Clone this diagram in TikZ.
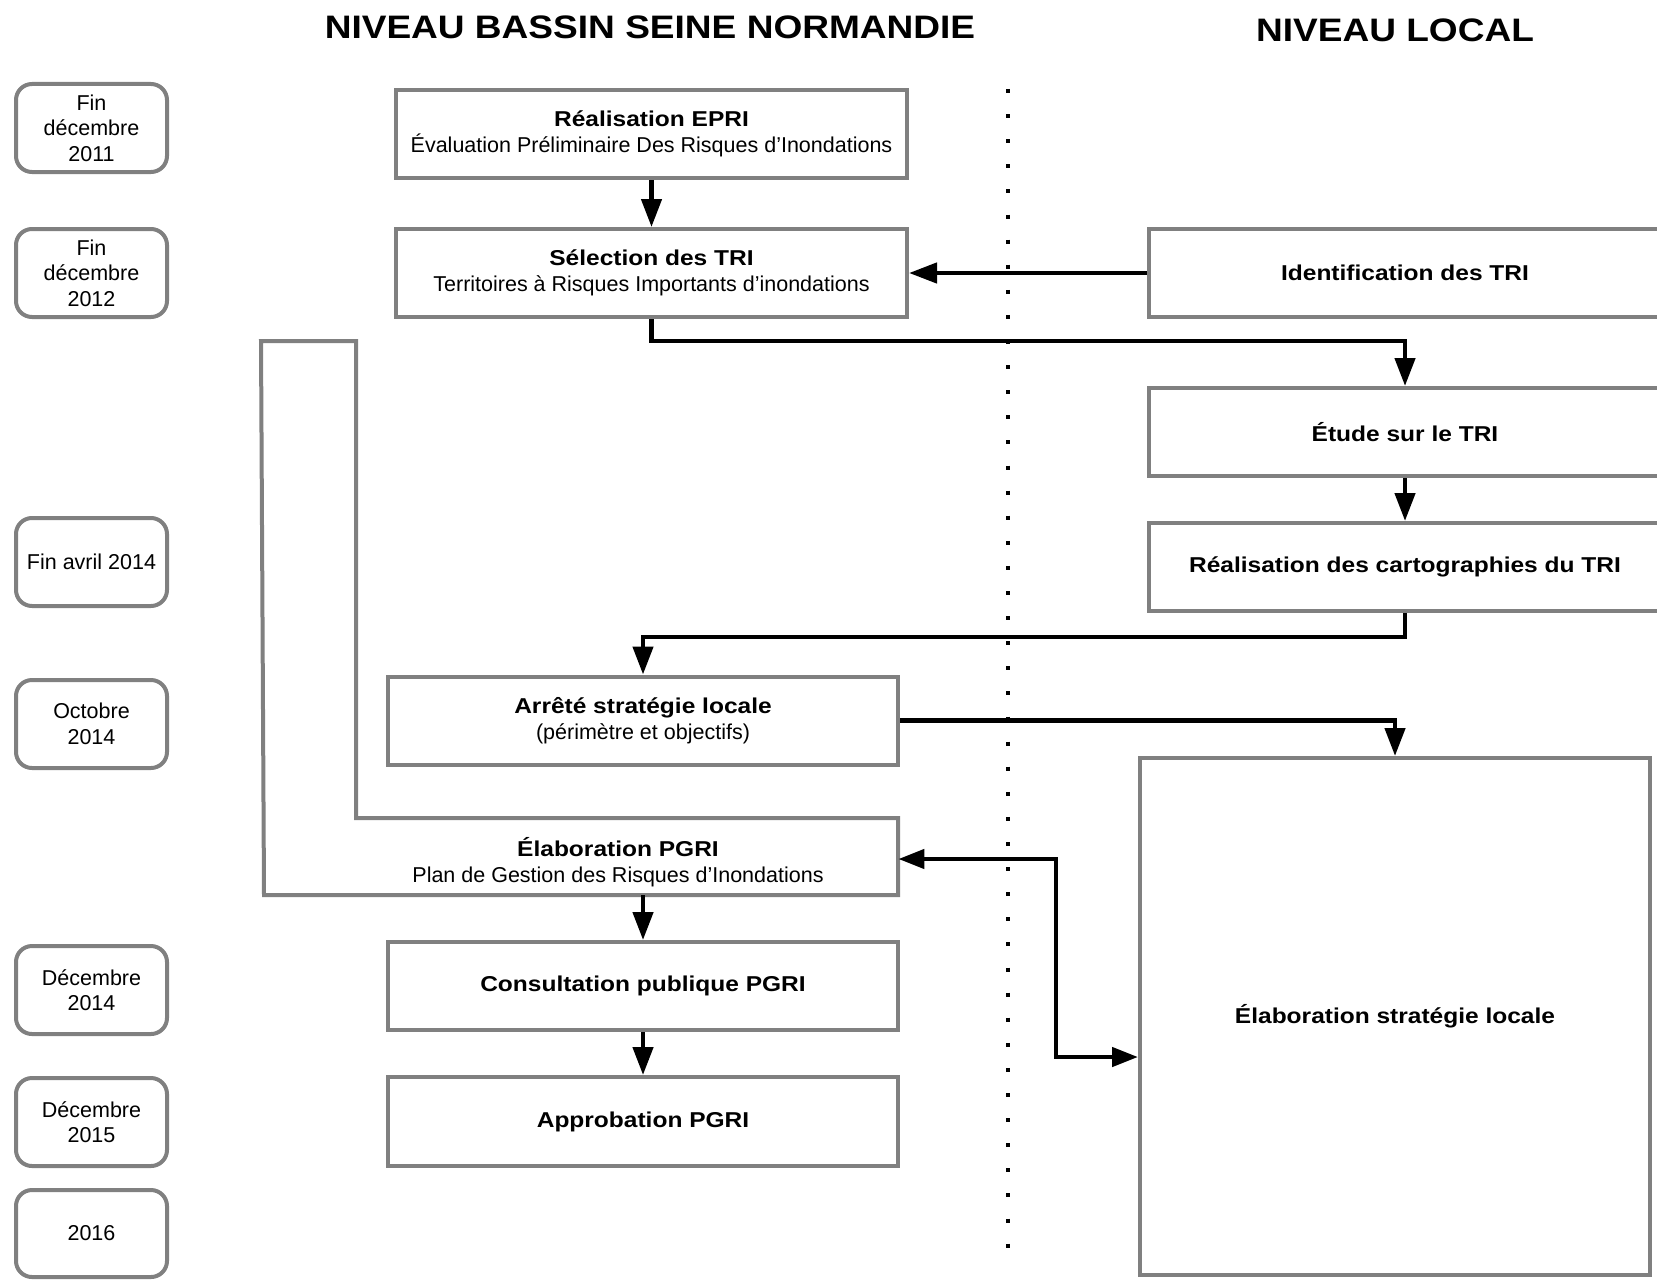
\documentclass[tikz,border=0pt]{standalone}
\usepackage{fontspec}
\setmainfont{Liberation Sans}
\newfontfamily\stretchbold{Liberation Sans}[FakeStretch=1.14]
\usetikzlibrary{arrows.meta,fit}
\definecolor{boxgrey}{RGB}{128,128,128}
\newcommand\bftxt[1]{{\stretchbold\bfseries #1}}
\begin{document}
\begin{tikzpicture}[x=0.5pt,y=-0.5pt,
  datebox/.style={draw=boxgrey, line width=2pt, rounded corners=8pt, minimum width=75.5pt, minimum height=44pt, inner sep=0pt, align=center, font=\fontsize{10.75pt}{12.7pt}\selectfont},
  mainbox/.style={draw=boxgrey, line width=2pt, fill=white, minimum width=255.5pt, minimum height=44pt, inner sep=0pt, align=center, font=\fontsize{10.75pt}{13.2pt}\selectfont},
  titlefont/.style={font=\stretchbold\bfseries\fontsize{16.25pt}{18pt}\selectfont},
  arr/.style={line width=2.25pt, -{Triangle[length=14pt,width=10pt]}},
  dbl/.style={line width=2.25pt, {Triangle[length=13pt,width=9.5pt]}-{Triangle[length=13pt,width=9.5pt]}}
]
\useasboundingbox (0,0) rectangle (1657,1279);

% titles
\node[titlefont] (t1) at (650,27) {NIVEAU BASSIN SEINE NORMANDIE};
\node[titlefont] (t2) at (1395,30) {NIVEAU LOCAL};

% dotted separator
\draw[line width=2pt, dash pattern=on 2pt off 10.55pt] (1008,89) -- (1008,1252);

% date boxes
\node[datebox] (d1) at (91.5,128) {Fin\\décembre\\2011};
\node[datebox] (d2) at (91.5,273) {Fin\\décembre\\2012};
\node[datebox] (d3) at (91.5,562) {Fin avril 2014};
\node[datebox] (d4) at (91.5,724) {Octobre\\2014};
\node[datebox] (d5) at (91.5,990) {Décembre\\2014};
\node[datebox] (d6) at (91.5,1122) {Décembre\\2015};
\node[datebox, minimum height=43.5pt] (d7) at (91.5,1233.5) {2016};

% basin column
\node[mainbox] (epri) at (651.5,134) {\bftxt{Réalisation EPRI}\\Évaluation Préliminaire Des Risques d’Inondations};
\node[mainbox] (sel) at (651.5,273) {\bftxt{Sélection des TRI}\\Territoires à Risques Importants d’inondations};
\node[mainbox, minimum width=255pt] (arrete) at (643,720.5) {\bftxt{Arrêté stratégie locale}\\(périmètre et objectifs)};

\draw[draw=boxgrey, line width=2pt, fill=white] (261,341) -- (356,341) -- (356,818) -- (898,818) -- (898,895) -- (264,895) -- cycle;
\node[fit={(262,818) (898,895)}, inner sep=0pt] (pgri) {};
\node[align=center, inner sep=0pt, font=\fontsize{10.75pt}{13.2pt}\selectfont] (pgrit) at (618,862) {\bftxt{Élaboration PGRI}\\Plan de Gestion des Risques d’Inondations};

\node[mainbox, minimum width=255pt] (cons) at (643,986) {\bftxt{Consultation publique PGRI}};
\node[mainbox, minimum width=255pt, minimum height=44.5pt] (appr) at (643,1121.5) {\bftxt{Approbation PGRI}};

% local column
\node[mainbox, minimum width=256pt] (ident) at (1405,273) {\bftxt{Identification des TRI}};
\node[mainbox, minimum width=256pt] (etude) at (1405,432) {\bftxt{Étude sur le TRI}};
\node[mainbox, minimum width=256pt] (carto) at (1405,567) {\bftxt{Réalisation des cartographies du TRI}};
\node[mainbox, minimum width=255pt, minimum height=258.5pt] (strat) at (1395,1016.5) {\bftxt{Élaboration stratégie locale}};

% connectors
\coordinate (y1) at (0,341);
\coordinate (y2) at (0,637);
\coordinate (k1) at (1056,859);
\coordinate (k2) at (1056,1057);
\draw[arr] (epri.south) -- (sel.north);
\draw[arr] (ident.west) -- (sel.east);
\draw[arr] (sel.south) -- (sel.south |- y1) -| (etude.north);
\draw[arr] (etude.south) -- (carto.north);
\draw[arr] (carto.south) -- (carto.south |- y2) -| (arrete.north);
\draw[arr] (arrete.east) -| (strat.north);
\draw[arr] (pgri.south -| cons.north) -- (cons.north);
\draw[arr] (cons.south) -- (appr.north);
\draw[dbl] (pgri.east |- k1) -- (k1) -- (k2) -- (strat.west |- k2);
\end{tikzpicture}
\end{document}
